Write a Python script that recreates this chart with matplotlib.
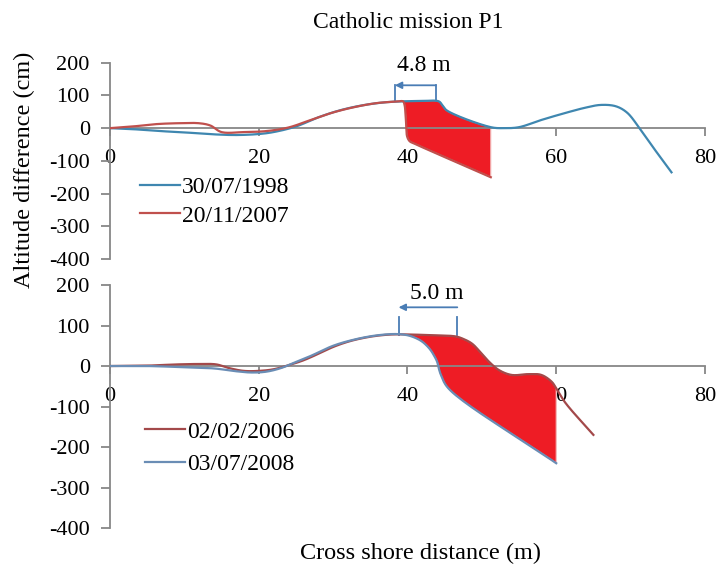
import numpy as np
import matplotlib.pyplot as plt

plt.rcParams['font.family'] = ['Liberation Serif', 'DejaVu Serif']
plt.rcParams['axes.unicode_minus'] = False

# profile P1, first pair of surveys (distance in m, altitude in cm)
x_1998 = [0, 3, 6, 10, 14, 17, 20, 22, 25, 28, 31, 34, 37, 39.4, 42, 44.2, 44.7,
          45.3, 51.2, 53, 55, 58, 61, 64, 66, 68, 69.5, 71.2, 73.2, 75.5]
z_1998 = [0, -3, -8, -13, -19, -21, -18, -12, 5, 33, 55, 70, 79, 82, 83, 82, 70,
          54, 3, 0, 3, 25, 45, 63, 71, 67, 48, 0, -64, -135]

x_2007 = [0, 3, 6, 9, 12, 13.5, 15, 18, 21, 24, 27, 30, 33, 36, 38.5, 39.4, 39.6,
          39.75, 39.85, 39.95, 40.3, 41, 51.2]
z_2007 = [0, 5, 12, 15, 15, 8, -12, -12, -9, 2, 25, 48, 65, 77, 81, 82, 72,
          40, 0, -25, -40, -48, -150]

# second pair of surveys
x_2006 = [0, 5, 9, 12, 14.3, 16, 18, 20, 22, 24, 26, 28, 30, 32, 34, 36, 38, 40,
          42, 44, 46.5, 47.5, 48.7, 50, 51, 52.3, 54, 56.3, 58, 59.4, 60, 61.2, 65]
z_2006 = [0, 1, 4, 5, 4, -5, -12, -12, -8, 2, 14, 30, 47, 60, 69, 75, 78, 78,
          77, 76, 73, 67, 55, 30, 10, -10, -22, -20, -22, -39, -55, -90, -170]

x_2008 = [0, 5, 10, 14, 17, 19, 21, 23, 25, 27, 30, 33, 36, 38.5, 40, 41, 42, 43,
          43.6, 44, 44.2, 44.5, 45.5, 60]
z_2008 = [0, 0, -3, -6, -13, -16, -14, -5, 10, 25, 50, 66, 76, 79, 76, 70, 60, 42,
          25, 10, -5, -22, -55, -240]

# retreat of the dune crest
shift_top = (38.3, 43.8, "4.8 m")
shift_bottom = (38.8, 46.7, "5.0 m")

xticks = [0, 20, 40, 60, 80]
yticks = [-400, -300, -200, -100, 0, 100, 200]

grey = '#878787'
fill_red = '#ee1c25'
arrow_blue = '#4a7db5'


def smooth(xs, zs, n=24):
    """Centripetal Catmull-Rom curve through the survey points."""
    p = np.column_stack([np.asarray(xs, float) * 20.0, np.asarray(zs, float)])
    p = np.vstack([2 * p[0] - p[1], p, 2 * p[-1] - p[-2]])
    out = [p[1]]
    for i in range(1, len(p) - 2):
        p0, p1, p2, p3 = p[i - 1], p[i], p[i + 1], p[i + 2]
        t0 = 0.0
        t1 = t0 + np.linalg.norm(p1 - p0) ** 0.5 + 1e-9
        t2 = t1 + np.linalg.norm(p2 - p1) ** 0.5 + 1e-9
        t3 = t2 + np.linalg.norm(p3 - p2) ** 0.5 + 1e-9
        for t in np.linspace(t1, t2, n)[1:]:
            a1 = (t1 - t) / (t1 - t0) * p0 + (t - t0) / (t1 - t0) * p1
            a2 = (t2 - t) / (t2 - t1) * p1 + (t - t1) / (t2 - t1) * p2
            a3 = (t3 - t) / (t3 - t2) * p2 + (t - t2) / (t3 - t2) * p3
            b1 = (t2 - t) / (t2 - t0) * a1 + (t - t0) / (t2 - t0) * a2
            b2 = (t3 - t) / (t3 - t1) * a2 + (t - t1) / (t3 - t1) * a3
            out.append((t2 - t) / (t2 - t1) * b1 + (t - t1) / (t2 - t1) * b2)
    out = np.array(out)
    return out[:, 0] / 20.0, out[:, 1]


def style_axis(ax):
    ax.set_xlim(0, 80)
    ax.set_ylim(-400, 200)
    ax.set_xticks(xticks)
    ax.set_yticks(yticks)
    for side in ['top', 'right']:
        ax.spines[side].set_visible(False)
    ax.spines['bottom'].set_position(('data', 0))
    for side in ['left', 'bottom']:
        ax.spines[side].set_color(grey)
        ax.spines[side].set_linewidth(1.3)
    ax.tick_params(axis='x', length=6, width=1.3, color=grey, pad=9,
                   labelsize=16)
    ax.tick_params(axis='y', length=6.5, width=1.3, color=grey, pad=8,
                   labelsize=16)
    ax.patch.set_alpha(0)


def fill_gap(ax, upper, lower, start, stop):
    ux, uz = upper
    lx, lz = lower
    keep_u = (ux >= start) & (ux <= stop)
    keep_l = (lx >= start) & (lx <= stop)
    px = np.concatenate([ux[keep_u], lx[keep_l][::-1]])
    pz = np.concatenate([uz[keep_u], lz[keep_l][::-1]])
    ax.fill(px, pz, facecolor=fill_red, edgecolor='#f3b9b9', lw=0.8, zorder=2)


def draw_shift(ax, x_new, x_old, label, z_low, z_high, z_arrow, z_text):
    for xv in (x_new, x_old):
        ax.plot([xv, xv], [z_low, z_high], color=arrow_blue, lw=1.3)
    ax.annotate('', xy=(x_new, z_arrow), xytext=(x_old, z_arrow),
                arrowprops=dict(arrowstyle='-|>', color=arrow_blue, lw=1.3,
                                mutation_scale=10, shrinkA=0, shrinkB=0))
    ax.text((x_new + x_old) / 2 + 1.2, z_text, label, ha='center', va='center',
            fontsize=17)


fig = plt.figure(figsize=(7.24, 5.77), dpi=100)
ax1 = fig.add_axes([0.1519, 0.5511, 0.8218, 0.3402])
ax2 = fig.add_axes([0.1519, 0.0849, 0.8218, 0.4211])

# top panel
s1998 = smooth(x_1998, z_1998)
s2007 = smooth(x_2007, z_2007)
fill_gap(ax1, s1998, s2007, 39.4, 51.2)
ax1.plot(*s1998, color='#3f87b0', lw=1.6, label='30/07/1998', zorder=3)
ax1.plot(*s2007, color='#c0504d', lw=1.6, label='20/11/2007', zorder=3)
draw_shift(ax1, shift_top[0], shift_top[1], shift_top[2], 83, 131, 131, 190)
style_axis(ax1)
ax1.legend(loc='upper left', bbox_to_anchor=(0.05, 0.42), frameon=False,
           fontsize=17, handlelength=1.7, handletextpad=0.1, labelspacing=0.3,
           borderpad=0, borderaxespad=0)

# bottom panel
s2006 = smooth(x_2006, z_2006)
s2008 = smooth(x_2008, z_2008)
fill_gap(ax2, s2006, s2008, 38.5, 60)
ax2.plot(*s2006, color='#a3494a', lw=1.6, label='02/02/2006', zorder=3)
ax2.plot(*s2008, color='#6a8db5', lw=1.6, label='03/07/2008', zorder=3)
draw_shift(ax2, shift_bottom[0], shift_bottom[1], shift_bottom[2], 77, 122, 145, 180)
style_axis(ax2)
ax2.legend(loc='upper left', bbox_to_anchor=(0.059, 0.44), frameon=False,
           fontsize=17, handlelength=1.7, handletextpad=0.1, labelspacing=0.45,
           borderpad=0, borderaxespad=0)

fig.text(408 / 724, 1 - 23 / 577, 'Catholic mission P1', ha='center', va='center',
         fontsize=17)
fig.text(24 / 724, 1 - 170 / 577, 'Altitude difference (cm)', rotation=90,
         ha='center', va='center', fontsize=17.5)
fig.text(420 / 724, 1 - 553 / 577, 'Cross shore distance (m)', ha='center',
         va='center', fontsize=17.5)

fig.savefig('out.png', dpi=100)
